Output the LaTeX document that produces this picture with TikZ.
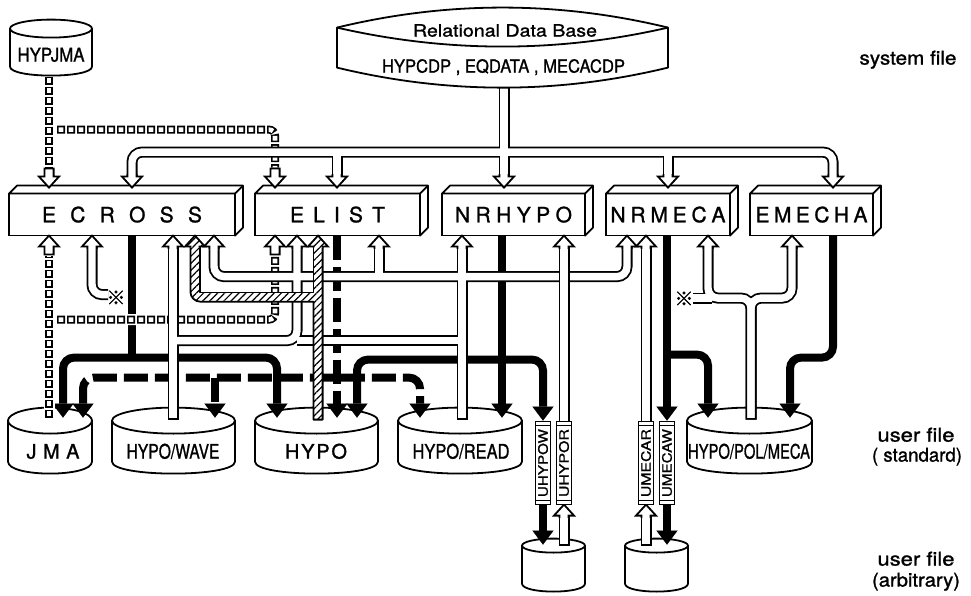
\documentclass[tikz,border=0pt]{standalone}
\usepackage{fontspec}
\usepackage{graphicx}
\setmainfont{TeX Gyre Heros}[FakeBold=1.2]
\newfontfamily\cjk{Noto Sans CJK JP}[FakeBold=1.5]
\usetikzlibrary{arrows.meta,patterns.meta}
\newcommand\fsz[1]{\fontsize{#1}{#1}\selectfont}
\newcommand\wtxt[3]{\resizebox{#1pt}{\height}{\fsz{#2}#3}}
\newcommand\cyl[6]{%
 \fill[white] ({#1-#2},#3) -- ({#1-#2},#4) .. controls ({#1-#2},{#4+1.333*#6}) and ({#1+#2},{#4+1.333*#6}) .. ({#1+#2},#4) -- ({#1+#2},#3) -- cycle;
 \draw[ln,fill=white] (#1,#3) ellipse [x radius=#2, y radius=#5];
 \draw[ln] ({#1-#2},#3) -- ({#1-#2},#4) .. controls ({#1-#2},{#4+1.333*#6}) and ({#1+#2},{#4+1.333*#6}) .. ({#1+#2},#4) -- ({#1+#2},#3);}
\newcommand\sidefaces[1]{%
 \filldraw[ln,fill=white] (#1.north west) -- ++(8,-8) -- ([shift={(8,-8)}]#1.north east) -- ([shift={(8,-8)}]#1.south east) -- (#1.south east) -- (#1.north east) -- cycle;
 \draw[ln] (#1.north east) -- ++(8,-8);}
\newcommand\ubox[3]{%
 \node[ubox] (#1) at (#2,458.5) {};
 \draw[line width=1.1pt] ([yshift=-4pt]#1.north west) -- ([yshift=-4pt]#1.north east) ([yshift=4pt]#1.south west) -- ([yshift=4pt]#1.south east);
 \node[rotate=90, inner sep=0pt] (#1t) at (#1) {\wtxt{68}{13}{#3}};}
\begin{document}
\begin{tikzpicture}[x=1pt,y=-1pt,
 ln/.style={line width=1.8pt, line join=round},
 face/.style={draw, line width=1.8pt, fill=white, inner sep=0pt, outer sep=0pt, minimum height=42pt, font=\fsz{21}},
 ubox/.style={draw, line width=1.5pt, fill=white, minimum width=15pt, minimum height=83pt, inner sep=0pt, outer sep=0pt},
 blk/.style={line width=8pt, rounded corners=11pt},
 blkA/.style={blk, -{Triangle[width=21pt,length=14pt,line width=0.1pt]}},
 blkAA/.style={blk, {Triangle[width=21pt,length=14pt,line width=0.1pt]}-{Triangle[width=21pt,length=14pt,line width=0.1pt]}},
 dsh/.style={dash pattern=on 24pt off 7pt},
 pipeout/.style={line width=11pt, rounded corners=10pt},
 pipein/.style={line width=7.4pt, white, rounded corners=10pt},
 nop/.style={}, cls/.style={shorten <=1.8pt},
 chU/.style={line width=11pt, white},
 chO/.style={line width=8pt, dash pattern=on 8pt off 2pt},
 chI/.style={line width=4.6pt, white, dash pattern=on 4.6pt off 5.4pt, dash phase=8.3pt},
 hatch/.style={pattern={Lines[angle=45,distance=5pt,line width=1.2pt]}},
 hup/.pic={
  \fill[white] (-4.6,13.5) -- (-4.6,11) -- (-10,11) -- (0,0) -- (10,11) -- (4.6,11) -- (4.6,13.5) -- cycle;
  \draw[line width=1.8pt, line join=miter] (-4.6,13.5) -- (-4.6,11) -- (-10,11) -- (0,0) -- (10,11) -- (4.6,11) -- (4.6,13.5);},
 hneck/.pic={
  \filldraw[fill=white, line width=1.8pt, line join=miter] (-4.6,19) -- (-4.6,11) -- (-10,11) -- (0,0) -- (10,11) -- (4.6,11) -- (4.6,19) -- cycle;},
 hhat/.pic={
  \fill[white] (-4.6,12) -- (-4.6,11) -- (-10,11) -- (0,0) -- (10,11) -- (4.6,11) -- (4.6,12) -- cycle;
  \fill[hatch] (-4.6,12) -- (-4.6,11) -- (-10,11) -- (0,0) -- (10,11) -- (4.6,11) -- (4.6,12) -- cycle;
  \draw[line width=1.8pt, line join=miter] (-4.6,12) -- (-4.6,11) -- (-10,11) -- (0,0) -- (10,11) -- (4.6,11) -- (4.6,12);}
]
\fill[white] (0,0) rectangle (971,591);

% ---------- cylinders ----------
\cyl{51}{41}{24}{62}{9}{9}
\node[anchor=base, inner sep=0pt] (hypjma) at (51,57) {\wtxt{67}{19}{HYPJMA}};
\cyl{50}{42}{416}{457}{13}{12}
\cyl{173.5}{61.5}{416}{457}{13}{12}
\cyl{316.5}{61.5}{416}{457}{13}{12}
\cyl{460}{62}{416}{457}{13}{12}
\cyl{749.5}{62.5}{416}{457}{13}{12}
\cyl{553.5}{31.5}{541}{579}{7}{8}
\cyl{656.5}{31.5}{541}{579}{7}{8}
\node[anchor=base, inner sep=0pt, font=\fsz{20}] (jma) at (53,454) {\makebox[53pt]{J\hfill M\hfill A}};
\node[anchor=base, inner sep=0pt] (hypowave) at (173,454) {\wtxt{93}{20}{HYPO/WAVE}};
\node[anchor=base, inner sep=0pt, font=\fsz{20}] (hypo) at (316,454) {\makebox[62pt]{H\hfill Y\hfill P\hfill O}};
\node[anchor=base, inner sep=0pt] (hyporead) at (461,454) {\wtxt{97}{20}{HYPO/READ}};
\node[anchor=base, inner sep=0pt] (hypopol) at (749,454) {\wtxt{122}{20}{HYPO/POL/MECA}};

% ---------- program boxes ----------
\node[face, minimum width=226pt] (ecross) at (122,210) {\makebox[160pt]{E\hfill C\hfill R\hfill O\hfill S\hfill S}};
\node[face, minimum width=165pt] (elist) at (337.5,210) {\makebox[95pt]{E\hfill L\hfill I\hfill S\hfill T}};
\node[face, minimum width=143pt] (nrhypo) at (513.5,210) {\makebox[117pt]{N\hfill R\hfill H\hfill Y\hfill P\hfill O}};
\node[face, minimum width=124pt] (nrmeca) at (668,210) {\makebox[115pt]{N\hfill R\hfill M\hfill E\hfill C\hfill A}};
\node[face, minimum width=123pt] (emecha) at (811.5,210) {\makebox[112pt]{E\hfill M\hfill E\hfill C\hfill H\hfill A}};
\sidefaces{ecross}\sidefaces{elist}\sidefaces{nrhypo}\sidefaces{nrmeca}\sidefaces{emecha}

% ---------- black solid flows ----------
\draw[blk] (132,231) -- (132,353);
\draw[blkAA] (63,413) -- (63,353) -- (277,353) -- (277,413);
\draw[blkA] (502,231) -- (502,413);
\draw[blkAA] (357,413) -- (357,355) -- (543,355) -- (543,416);
\draw[blkA] (667,231) -- (667,416);
\draw[blkA] (667,350) -- (708,350) -- (708,413);
\draw[blkA] (833,231) -- (833,353) -- (790,353) -- (790,413);
\draw[blkA] (543,500) -- (543,540);
\draw[blkA] (667,500) -- (667,540);
% ---------- black dashed flows ----------
\draw[blkA, dsh] (337,231) -- (337,413);
\draw[blkAA, dsh] (83,413) -- (83,373) -- (420,373) -- (420,413);
\draw[blkA, dsh] (215,373) -- (215,413);

% ---------- square chains ----------
\foreach \s in {chU,chO,chI}{
 \draw[\s] (49,72) -- (49,163);
 \draw[\s, rounded corners=6pt] (57,125) -- (275,125) -- (275,163);
 \draw[\s] (49,413) -- (49,251);
 \draw[\s, rounded corners=6pt] (57,315) -- (275,315) -- (275,251);
}

% ---------- white pipes ----------
\foreach \s in {pipeout,pipein}{
 \draw[\s] (504,82) -- (504,172);
 \draw[\s] (132,172) -- (132,147.5) -- (833,147.5) -- (833,172);
 \draw[\s] (337,147.5) -- (337,172);
 \draw[\s] (668,147.5) -- (668,172);
}
\foreach \s in {pipeout,pipein}{
 \draw[\s] (108,290) -- (92,290) -- (92,242);
}
\foreach \s/\c in {pipeout/nop,pipein/cls}{
 \draw[\s] (214,242) -- (214,272) -- (627,272) -- (627,242);
 \draw[\s] (379,272) -- (379,242);
 \draw[\s,\c] (462,415) -- (462,242);
 \draw[\s,\c] (173,415) -- (173,242);
 \draw[\s] (173,336) -- (297,336) -- (297,242);
 \draw[\s] (297,336) -- (462,336);
}
\foreach \s/\c in {pipeout/nop,pipein/cls}{
 \draw[\s] (564,417) -- (564,242);
 \draw[\s,\c] (564,541) -- (564,511);
 \draw[\s] (646,417) -- (646,242);
 \draw[\s,\c] (646,541) -- (646,511);
}
\foreach \s/\c in {pipeout/nop,pipein/cls}{
 \draw[\s,\c] (751,415) -- (751,293.5) -- (708,293.5) -- (708,242);
 \draw[\s,\c] (751,415) -- (751,293.5) -- (792,293.5) -- (792,242);
 \draw[\s] (693,293.5) -- (712,293.5);
}

% ---------- hatched pipe ----------
\fill[white] (313.4,415) -- (313.4,297.1) -- (200.4,297.1) .. controls (194.9,297.1) and (190.4,292.6) .. (190.4,287.1) -- (190.4,242) -- (199.6,242) -- (199.6,287.9) -- (313.4,287.9) -- (313.4,242) -- (322.6,242) -- (322.6,415) -- cycle;
\fill[hatch] (313.4,415) -- (313.4,297.1) -- (200.4,297.1) .. controls (194.9,297.1) and (190.4,292.6) .. (190.4,287.1) -- (190.4,242) -- (199.6,242) -- (199.6,287.9) -- (313.4,287.9) -- (313.4,242) -- (322.6,242) -- (322.6,415) -- cycle;
\draw[ln] (322.6,242) -- (322.6,415) -- (313.4,415) -- (313.4,297.1) -- (200.4,297.1) .. controls (194.9,297.1) and (190.4,292.6) .. (190.4,287.1) -- (190.4,242);
\draw[ln] (199.6,242) -- (199.6,287.9) -- (313.4,287.9) -- (313.4,242);

% ---------- arrow heads ----------
\foreach \x in {92,173,214,297,379,462,564,627,646,708,792} \pic at (\x,231) {hup};
\pic at (564,500) {hup};
\pic at (646,500) {hup};
\foreach \x in {132,337,504,668,833} \pic[rotate=180] at (\x,183) {hup};
\pic at (49,231) {hneck};
\pic at (275,231) {hneck};
\pic[rotate=180] at (49,183) {hneck};
\pic[rotate=180] at (275,183) {hneck};
\pic at (195,231) {hhat};
\pic at (318,231) {hhat};

% ---------- user file boxes ----------
\ubox{uhypow}{543}{UHYPOW}
\ubox{uhypor}{564}{UHYPOR}
\ubox{umecar}{646}{UMECAR}
\ubox{umecaw}{667}{UMECAW}

% ---------- relational data base ----------
\fill[white] (337,23) .. controls (447,-3.7) and (558,-3.7) .. (668,23) -- (668,63) .. controls (558,89.7) and (447,89.7) .. (337,63) -- cycle;
\draw[ln] (337,23) .. controls (447,-3.7) and (558,-3.7) .. (668,23) -- (668,63) .. controls (558,89.7) and (447,89.7) .. (337,63) -- cycle;
\draw[ln] (337,23) .. controls (447,48.3) and (558,48.3) .. (668,23);
\node[anchor=base, inner sep=0pt] (rdb) at (505,32) {\wtxt{184}{17}{Relational Data Base}};
\node[anchor=base, inner sep=0pt] (rdbfiles) at (503.5,68) {\wtxt{243}{18}{HYPCDP , EQDATA , MECACDP}};

% ---------- reference marks ----------
\node[inner sep=0pt, font=\cjk\fsz{19}] (mark1) at (116,293) {※};
\node[inner sep=0pt, font=\cjk\fsz{19}] (mark2) at (684,294) {※};

% ---------- side labels ----------
\node[anchor=base, inner sep=0pt] (sysfile) at (908,60) {\wtxt{97}{19}{system file}};
\node[anchor=base, inner sep=0pt] (uf1) at (916,437) {\wtxt{77}{19}{user file}};
\node[anchor=base, inner sep=0pt] (std) at (917,457) {\wtxt{90}{19}{( standard)}};
\node[anchor=base, inner sep=0pt] (uf2) at (916,561) {\wtxt{77}{19}{user file}};
\node[anchor=base, inner sep=0pt] (arb) at (916,582) {\wtxt{88}{19}{(arbitrary)}};
\end{tikzpicture}
\end{document}
